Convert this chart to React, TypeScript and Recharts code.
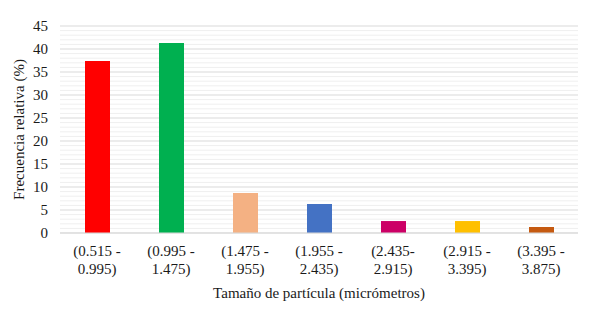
import { Bar, BarChart, CartesianGrid, Cell, XAxis, YAxis } from "recharts";

const categories = [
  "(0.515 - 0.995)",
  "(0.995 - 1.475)",
  "(1.475 - 1.955)",
  "(1.955 - 2.435)",
  "(2.435-2.915)",
  "(2.915 - 3.395)",
  "(3.395 - 3.875)",
];
const frequencies = [37.4, 41.3, 8.7, 6.3, 2.6, 2.6, 1.3];
const barColors = ["#FF0000", "#00B050", "#F4B183", "#4472C4", "#CC0066", "#FFC000", "#C55A11"];
const yTicks = [0, 5, 10, 15, 20, 25, 30, 35, 40, 45];

const FONT = "'Liberation Serif', 'Times New Roman', serif";
const textStyle = { fontFamily: FONT, fontSize: 15, fill: "#1a1a1a" };
const minorTicks = Array.from({ length: 46 }, (_, i) => i).filter((v) => v % 5 !== 0);

const data = categories.map((c, i) => ({ range: c, freq: frequencies[i] }));

function RangeTick({ x, y, payload }: any) {
  const [first, second] = String(payload.value).split(/(?<=-)\s*/);
  return (
    <text x={x} y={y} textAnchor="middle" style={textStyle}>
      <tspan x={x} dy={15}>{first}</tspan>
      <tspan x={x} dy={18}>{second}</tspan>
    </text>
  );
}

function CountTick({ x, y, payload }: any) {
  return (
    <text x={x} y={y} dy={5} textAnchor="end" style={textStyle}>
      {payload.value}
    </text>
  );
}

export default function App() {
  return (
    <div style={{ position: "absolute", left: 0, top: 0, width: 594, height: 313, background: "#fff" }}>
      <BarChart width={594} height={313} data={data} margin={{ top: 26, right: 16, left: 0, bottom: 0 }}>
        <CartesianGrid vertical={false} horizontalValues={minorTicks} stroke="#efefef" />
        <CartesianGrid vertical={false} horizontalValues={yTicks} stroke="#d9d9d9" />
        <XAxis
          dataKey="range"
          height={80}
          tick={<RangeTick />}
          tickLine={false}
          axisLine={{ stroke: "#d9d9d9" }}
          interval={0}
          label={{ value: "Tamaño de partícula (micrómetros)", position: "insideBottom", offset: 15, style: textStyle }}
        />
        <YAxis
          domain={[0, 45]}
          ticks={yTicks}
          interval={0}
          width={60}
          tickLine={false}
          axisLine={false}
          tickSize={0}
          tickMargin={12}
          tick={<CountTick />}
          label={{ value: "Frecuencia relativa (%)", angle: -90, position: "insideLeft", offset: 19, style: { ...textStyle, textAnchor: "middle" } }}
        />
        <Bar dataKey="freq" barSize={25} isAnimationActive={false}>
          {data.map((d, i) => (
            <Cell key={d.range} fill={barColors[i]} />
          ))}
        </Bar>
      </BarChart>
    </div>
  );
}
